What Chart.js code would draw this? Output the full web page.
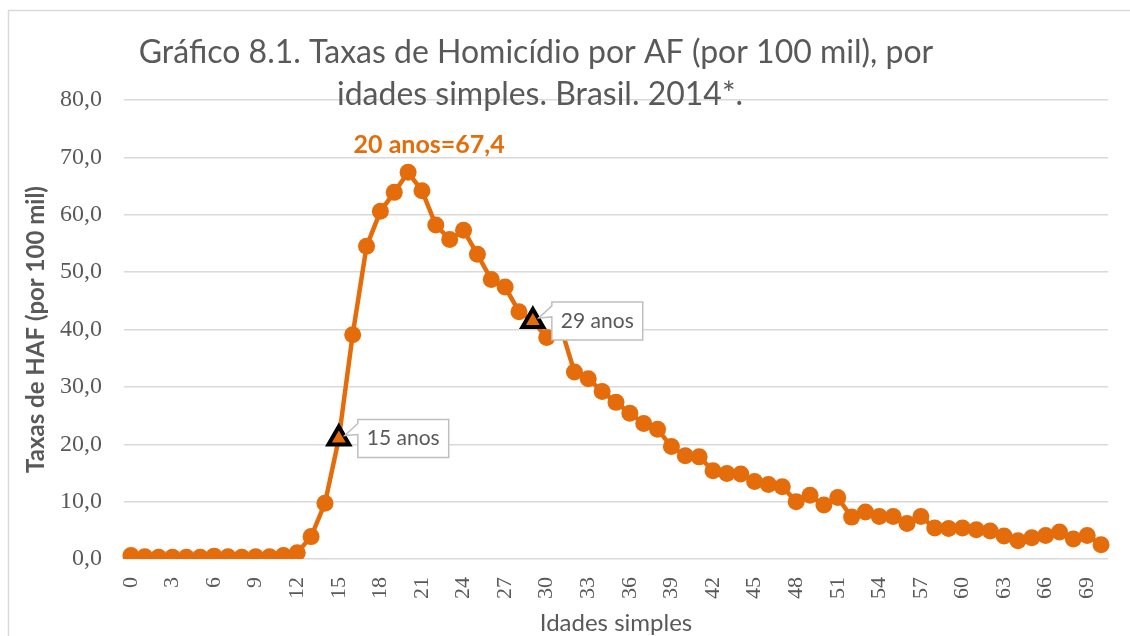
<!DOCTYPE html>
<html>
<head>
<meta charset="utf-8">
<script src="https://cdn.jsdelivr.net/npm/chart.js@4.4.1/dist/chart.umd.min.js"></script>
<style>
    html, body { margin: 0; padding: 0; background: #ffffff; }
    #wrap { width: 1130px; height: 636px; }
</style>
</head>
<body>
<div id="wrap"><canvas id="grafico" width="1130" height="636"></canvas></div>
<script>
// idades simples (0 a 70 anos)
const idades = ['0', '1', '2', '3', '4', '5', '6', '7', '8', '9',
    '10', '11', '12', '13', '14', '15', '16', '17', '18', '19',
    '20', '21', '22', '23', '24', '25', '26', '27', '28', '29',
    '30', '31', '32', '33', '34', '35', '36', '37', '38', '39',
    '40', '41', '42', '43', '44', '45', '46', '47', '48', '49',
    '50', '51', '52', '53', '54', '55', '56', '57', '58', '59',
    '60', '61', '62', '63', '64', '65', '66', '67', '68', '69', '70'];

// taxas de HAF por 100 mil
const taxas = [0.6, 0.4, 0.3, 0.3, 0.3, 0.3, 0.5, 0.4, 0.3, 0.4,
    0.4, 0.6, 1.1, 3.9, 9.7, 21.0, 39.1, 54.5, 60.6, 63.9,
    67.4, 64.2, 58.2, 55.7, 57.3, 53.1, 48.7, 47.4, 43.1, 41.5,
    38.6, 40.5, 32.6, 31.4, 29.2, 27.3, 25.4, 23.6, 22.6, 19.6,
    18.0, 17.8, 15.4, 14.9, 14.8, 13.5, 13.0, 12.6, 10.0, 11.1,
    9.4, 10.7, 7.3, 8.2, 7.4, 7.4, 6.2, 7.4, 5.4, 5.3,
    5.4, 5.1, 4.9, 4.0, 3.2, 3.7, 4.1, 4.7, 3.5, 4.1, 2.5];

// rótulos mostrados no eixo x
const rotulosX = ['0', '3', '6', '9', '12', '15', '18', '21', '24', '27', '30', '33',
    '36', '39', '42', '45', '48', '51', '54', '57', '60', '63', '66', '69'];

// idades destacadas com triângulo e balão
const destaques = ['15', '29'];
const textosDestaque = ['15 anos', '29 anos'];

// pico
const idadePico = '20';
const textoPico = '20 anos=67,4';

const tituloLinhas = ['Gráfico 8.1. Taxas de Homicídio por AF (por 100 mil), por',
    'idades simples. Brasil. 2014*.'];

const laranja = '#E46C0A';
const cinzaTexto = '#595959';

const moldura = {
    id: 'moldura',
    beforeDraw(chart) {
        const ctx = chart.ctx;
        ctx.save();
        ctx.fillStyle = '#ffffff';
        ctx.fillRect(0, 0, chart.width, chart.height);
        ctx.strokeStyle = '#d9d9d9';
        ctx.lineWidth = 1.5;
        ctx.strokeRect(8.5, 10.5, chart.width + 20, chart.height + 20);
        ctx.restore();
    }
};

const anotacoes = {
    id: 'anotacoes',
    afterDatasetsDraw(chart) {
        const ctx = chart.ctx;
        const meta = chart.getDatasetMeta(0);
        ctx.save();

        // rótulo do pico
        const pico = meta.data[idades.indexOf(idadePico)];
        ctx.fillStyle = laranja;
        ctx.font = 'bold 25px Lato';
        ctx.textAlign = 'center';
        ctx.textBaseline = 'middle';
        ctx.fillText(textoPico, pico.x + 21, pico.y - 27);

        // balões
        ctx.font = '21px Lato';
        destaques.forEach((idade, k) => {
            const p = meta.data[idades.indexOf(idade)];
            const texto = textosDestaque[k];
            const w = ctx.measureText(texto).width + 18;
            const h = 38;
            const left = p.x + 19;
            const top = p.y - h / 2;
            ctx.beginPath();
            ctx.moveTo(left, top);
            ctx.lineTo(left + w, top);
            ctx.lineTo(left + w, top + h);
            ctx.lineTo(left, top + h);
            ctx.lineTo(left, top + 15);
            ctx.lineTo(p.x + 6, p.y - 3);
            ctx.lineTo(left, top + 4);
            ctx.closePath();
            ctx.fillStyle = '#ffffff';
            ctx.fill();
            ctx.strokeStyle = '#bfbfbf';
            ctx.lineWidth = 1.5;
            ctx.stroke();
            ctx.fillStyle = cinzaTexto;
            ctx.textAlign = 'left';
            ctx.fillText(texto, left + 9, p.y);
        });
        ctx.restore();
    },
    afterDraw(chart) {
        const ctx = chart.ctx;
        ctx.save();
        ctx.fillStyle = cinzaTexto;
        ctx.font = '32px Lato';
        ctx.textAlign = 'center';
        ctx.textBaseline = 'alphabetic';
        ctx.fillText(tituloLinhas[0], 536, 63);
        ctx.fillText(tituloLinhas[1], 540, 105);
        ctx.restore();
    }
};

new Chart(document.getElementById('grafico'), {
    type: 'line',
    data: {
        labels: idades,
        datasets: [{
            data: taxas,
            borderColor: laranja,
            backgroundColor: laranja,
            borderWidth: 4.5,
            tension: 0,
            pointStyle: idades.map(i => destaques.includes(i) ? 'triangle' : 'circle'),
            pointRadius: idades.map(i => destaques.includes(i) ? 12 : 8.5),
            pointBackgroundColor: laranja,
            pointBorderColor: idades.map(i => destaques.includes(i) ? '#000000' : laranja),
            pointBorderWidth: idades.map(i => destaques.includes(i) ? 4 : 0)
        }]
    },
    options: {
        responsive: false,
        animation: false,
        layout: { padding: { top: 100, right: 22, left: 0, bottom: 0 } },
        plugins: {
            legend: { display: false },
            tooltip: { enabled: false }
        },
        scales: {
            x: {
                offset: true,
                grid: { display: false },
                border: { display: false },
                ticks: {
                    autoSkip: false,
                    maxRotation: 90,
                    minRotation: 90,
                    padding: 10,
                    color: cinzaTexto,
                    font: { family: 'Liberation Serif', size: 22 },
                    callback: function (v) {
                        const l = this.getLabelForValue(v);
                        return rotulosX.includes(l) ? l : '';
                    }
                },
                title: {
                    display: true,
                    text: 'Idades simples',
                    color: cinzaTexto,
                    font: { family: 'Lato', size: 24 },
                    padding: { top: 0, bottom: -2 }
                },
                afterFit(scale) {
                    scale.height = 77;
                    scale.paddingLeft = 0;
                    scale.paddingRight = 0;
                }
            },
            y: {
                min: 0,
                max: 80,
                grid: { color: '#d9d9d9', lineWidth: 1.5, drawTicks: false },
                border: { display: false },
                ticks: {
                    stepSize: 10,
                    padding: 22,
                    color: cinzaTexto,
                    font: { family: 'Liberation Serif', size: 24 },
                    callback: v => v.toFixed(1).replace('.', ',')
                },
                title: {
                    display: true,
                    text: 'Taxas de HAF (por 100 mil)',
                    color: cinzaTexto,
                    font: { family: 'Lato', size: 24, weight: 'bold' },
                    padding: { top: 22, bottom: 0 }
                },
                afterFit(scale) { scale.width = 124; }
            }
        }
    },
    plugins: [moldura, anotacoes]
});
</script>
</body>
</html>
